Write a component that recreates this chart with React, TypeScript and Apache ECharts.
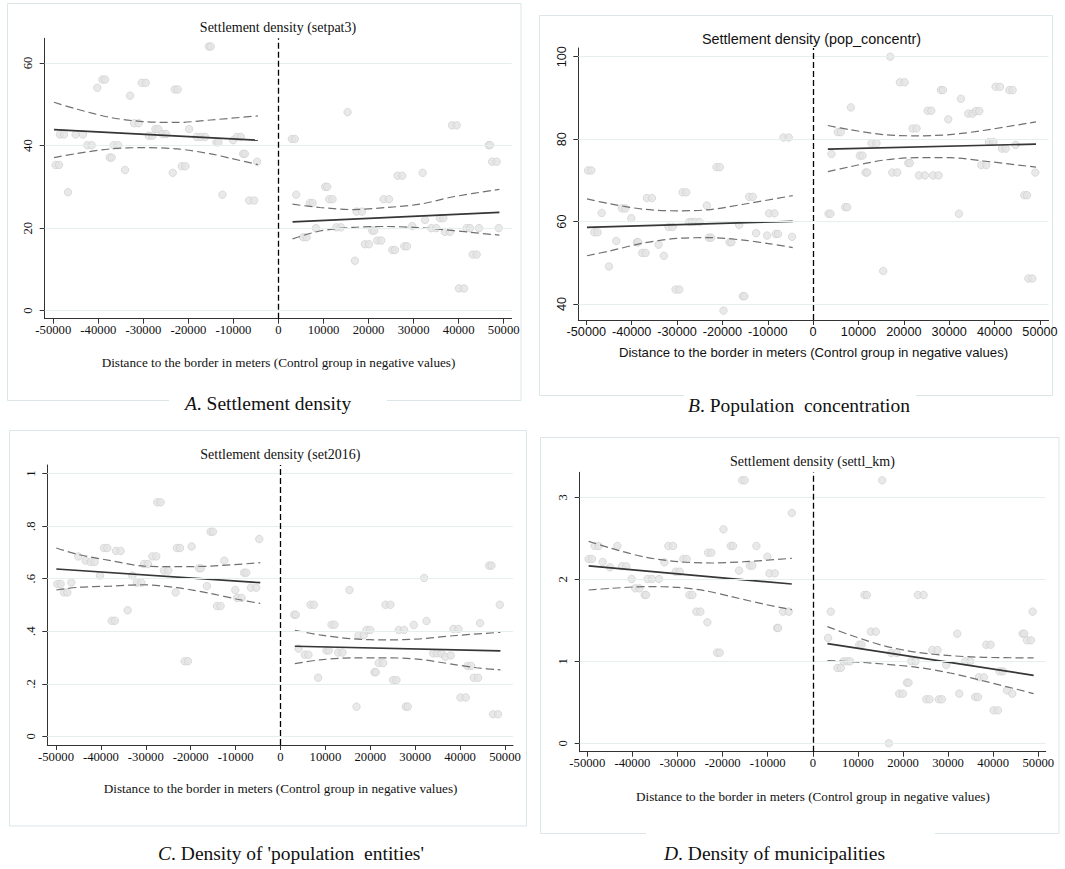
import React, { useEffect, useRef } from "react";
import * as echarts from "echarts";

// ---------------- DATA ----------------
const xTicks = [-50000, -40000, -30000, -20000, -10000, 0, 10000, 20000, 30000, 40000, 50000];
const yTicksA = [0, 20, 40, 60];
const yTicksB = [40, 60, 80, 100];
const yTicksC = [0, 0.2, 0.4, 0.6, 0.8, 1];
const yTicksD = [0, 1, 2, 3];

const titleA = "Settlement density (setpat3)";
const titleB = "Settlement density (pop_concentr)";
const titleC = "Settlement density (set2016)";
const titleD = "Settlement density (settl_km)";
const xAxisName = "Distance to the border in meters (Control group in negative values)";
const captionLetters = ["A", "B", "C", "D"];
const captionTexts = [". Settlement density", ". Population  concentration", ". Density of 'population  entities'", ". Density of municipalities"];

const pointsA: number[][] = [
  [-49480, 35.3], [-48740, 35.3], [-48520, 42.7], [-47630, 42.7], [-46740, 28.7],
  [-45040, 42.7], [-43410, 42.7], [-42440, 40.1], [-41480, 40.1], [-40220, 54.0],
  [-39110, 56.0], [-38520, 56.0], [-37480, 37.1], [-37040, 37.1], [-36590, 40.1], [-35630, 40.1],
  [-34070, 34.1], [-32960, 52.1], [-32070, 45.4], [-31040, 45.4], [-30370, 55.2], [-29480, 55.2],
  [-28810, 42.4], [-28000, 42.4], [-27330, 44.0], [-26670, 44.0], [-25780, 42.8], [-24960, 42.8],
  [-23480, 33.4], [-23040, 53.6], [-22370, 53.6], [-21480, 35.0], [-20670, 35.0], [-19850, 44.0],
  [-18150, 42.1], [-17260, 42.1], [-16300, 42.1], [-15480, 64.0], [-15040, 64.0],
  [-13780, 40.8], [-13330, 40.8], [-12440, 28.1], [-10070, 41.3], [-9260, 42.1], [-8370, 42.1],
  [-7850, 38.0], [-7480, 38.0], [-6520, 26.7], [-5410, 26.7], [-4740, 36.1],
  [2960, 41.6], [3630, 41.6], [3930, 28.1], [5480, 17.8], [6220, 17.8], [6960, 26.1], [7560, 26.1],
  [8300, 20.0], [10370, 30.0], [10810, 30.0], [11260, 27.0], [12000, 27.0], [12890, 20.2], [13850, 20.2],
  [15330, 48.1], [16960, 12.1], [17330, 24.0], [18520, 24.0], [19190, 16.1], [20070, 16.1],
  [20800, 19.4], [21260, 19.4], [21930, 17.0], [22810, 17.0], [23330, 27.0], [24520, 27.0],
  [25260, 14.7], [25850, 14.7], [26440, 32.7], [27480, 32.7], [27930, 15.6], [28520, 15.6],
  [29700, 20.5], [32000, 33.4], [32520, 22.0], [33930, 20.0], [35040, 20.0], [35850, 22.4], [36590, 22.4],
  [36960, 19.1], [38070, 19.1], [38520, 44.9], [39560, 44.9], [40070, 5.4], [41190, 5.4],
  [41780, 20.0], [42520, 20.0], [43110, 13.6], [44000, 13.6], [44520, 20.0],
  [46670, 40.1], [46960, 40.1], [47410, 36.1], [48440, 36.1], [48890, 20.0],
];
const fitA_L = [[-49850, 43.85], [-4590, 41.3]];
const fitA_R = [[3110, 21.5], [49040, 23.8]];
const ciA_L_up = [[-49850, 50.5], [-44670, 48.8], [-37260, 46.8], [-29850, 45.8], [-22440, 45.6], [-15040, 46.2], [-4590, 47.2]];
const ciA_L_lo = [[-49850, 37.1], [-44670, 38.1], [-37260, 39.2], [-29850, 39.5], [-22440, 39.2], [-15040, 38.0], [-10590, 36.9], [-4590, 35.4]];
const ciA_R_up = [[3110, 25.8], [9190, 25.0], [16590, 24.5], [24000, 25.0], [31410, 25.8], [38810, 27.6], [49040, 29.4]];
const ciA_R_lo = [[3110, 17.4], [9190, 19.3], [16590, 20.2], [24000, 20.4], [29930, 20.2], [35110, 19.8], [42520, 19.0], [49040, 18.3]];

const pointsB: number[][] = [
  [-49630, 72.4], [-48900, 72.4], [-48240, 57.4], [-47500, 57.4], [-46620, 62.1], [-45010, 49.1],
  [-43390, 55.3], [-42150, 63.2], [-41410, 63.2], [-40090, 60.8], [-38840, 55.0], [-38550, 55.0],
  [-37670, 52.4], [-36940, 52.4], [-36640, 65.7], [-35540, 65.7], [-34070, 54.4], [-32900, 51.7],
  [-31870, 58.7], [-30990, 58.7], [-30330, 43.5], [-29520, 43.5], [-28790, 67.1], [-27980, 67.1],
  [-27320, 59.9], [-26700, 59.9], [-26000, 59.9], [-25050, 59.9], [-23430, 63.9], [-22990, 56.1], [-22480, 56.1],
  [-21300, 73.2], [-20570, 73.2], [-19760, 38.4], [-18440, 55.0], [-18000, 55.0], [-16310, 59.2],
  [-15500, 41.9], [-15140, 41.9], [-14110, 66.0], [-13300, 66.0], [-12570, 57.2], [-10150, 56.6],
  [-9710, 62.0], [-8530, 62.0], [-8240, 57.0], [-7730, 57.0], [-6550, 80.4], [-5380, 80.4], [-4640, 56.3],
  [3380, 61.9], [3820, 61.9], [4040, 76.4], [5440, 81.7], [6100, 81.7], [7060, 63.5], [7500, 63.5],
  [8310, 87.7], [10290, 76.0], [10880, 76.0], [11540, 71.9], [11910, 71.9], [12870, 79.0], [13970, 79.0],
  [15440, 48.0], [16990, 100.0], [17430, 71.9], [18530, 71.9], [19120, 93.8], [20150, 93.8],
  [20960, 74.2], [21320, 74.2], [21910, 82.6], [22790, 82.6], [23310, 71.2], [24630, 71.2],
  [25220, 86.9], [26030, 86.9], [26470, 71.2], [27650, 71.2], [28160, 91.9], [28600, 91.9],
  [29780, 84.8], [32130, 61.9], [32570, 89.8], [34190, 86.2], [35150, 86.2], [35880, 86.8], [36620, 86.8],
  [37060, 73.7], [38160, 73.7], [38750, 79.3], [39710, 79.3], [40220, 92.7], [41180, 92.7],
  [41620, 77.7], [42430, 77.7], [43240, 91.9], [43970, 91.9], [44630, 78.6],
  [46540, 66.4], [47130, 66.4], [47430, 46.2], [48310, 46.2], [48970, 71.9],
];
const fitB_L = [[-49850, 58.6], [-4500, 60.05]];
const fitB_R = [[3240, 77.6], [49120, 78.8]];
const ciB_L_up = [[-49850, 65.5], [-44720, 64.3], [-37380, 63.0], [-30040, 62.6], [-22700, 62.9], [-15360, 64.2], [-4500, 66.3]];
const ciB_L_lo = [[-49850, 51.7], [-44720, 52.9], [-37380, 54.8], [-30040, 55.9], [-22700, 56.1], [-15360, 55.5], [-9490, 54.6], [-4500, 53.7]];
const ciB_R_up = [[3240, 83.3], [8090, 82.3], [15440, 81.1], [22790, 80.8], [30150, 81.1], [37500, 82.1], [49120, 84.2]];
const ciB_R_lo = [[3240, 72.1], [8090, 73.3], [15440, 74.9], [22790, 75.5], [30150, 75.5], [37500, 74.7], [49120, 73.2]];

const pointsC: number[][] = [
  [-49700, 0.58], [-48960, 0.58], [-48220, 0.548], [-47480, 0.548], [-46590, 0.586], [-45030, 0.685],
  [-43400, 0.669], [-42280, 0.664], [-41390, 0.664], [-40200, 0.612], [-39310, 0.717], [-38570, 0.717],
  [-37600, 0.44], [-36900, 0.44], [-36640, 0.706], [-35600, 0.706], [-34040, 0.48], [-32990, 0.612],
  [-31970, 0.585], [-31000, 0.585], [-30410, 0.656], [-29520, 0.656], [-28550, 0.685], [-27660, 0.685],
  [-27440, 0.891], [-26700, 0.891], [-25960, 0.631], [-24990, 0.631], [-23360, 0.548], [-23060, 0.717], [-22390, 0.717],
  [-21350, 0.286], [-20610, 0.286], [-19800, 0.723], [-18160, 0.64], [-17720, 0.64], [-16380, 0.572],
  [-15570, 0.779], [-15050, 0.779], [-14160, 0.496], [-13340, 0.496], [-12520, 0.669], [-10070, 0.557],
  [-9630, 0.527], [-8660, 0.527], [-8140, 0.623], [-7630, 0.623], [-6590, 0.566], [-5400, 0.566], [-4730, 0.751],
  [3040, 0.463], [3410, 0.463], [4010, 0.334], [5420, 0.311], [6230, 0.311], [6680, 0.501], [7420, 0.501],
  [8390, 0.223], [10240, 0.327], [10760, 0.327], [11350, 0.425], [12020, 0.425], [12840, 0.319], [13800, 0.319],
  [15360, 0.557], [16920, 0.113], [17370, 0.385], [18550, 0.385], [19150, 0.405], [19960, 0.405],
  [20930, 0.244], [21220, 0.244], [21890, 0.279], [22860, 0.279], [23380, 0.501], [24490, 0.501],
  [25080, 0.214], [25830, 0.214], [26350, 0.405], [27530, 0.405], [27900, 0.113], [28350, 0.113],
  [29680, 0.424], [31990, 0.603], [32510, 0.439], [33990, 0.316], [34880, 0.316], [35840, 0.315], [36730, 0.303], [37920, 0.308],
  [38520, 0.409], [39630, 0.409], [40070, 0.148], [41260, 0.148], [41630, 0.268], [42450, 0.268],
  [43040, 0.223], [44010, 0.223], [44450, 0.431], [46460, 0.65], [46980, 0.65], [47350, 0.084], [48460, 0.084], [48830, 0.501],
];
const fitC_L = [[-49930, 0.637], [-4510, 0.585]];
const fitC_R = [[3190, 0.343], [48980, 0.325]];
const ciC_L_up = [[-49930, 0.717], [-45250, 0.693], [-37830, 0.669], [-30410, 0.648], [-22990, 0.646], [-15570, 0.648], [-4510, 0.661]];
const ciC_L_lo = [[-49930, 0.557], [-45250, 0.567], [-37830, 0.572], [-31150, 0.577], [-22990, 0.566], [-15570, 0.544], [-9630, 0.522], [-4510, 0.506]];
const ciC_R_up = [[3190, 0.404], [8760, 0.386], [16180, 0.371], [23600, 0.367], [31020, 0.371], [38440, 0.383], [48980, 0.396]];
const ciC_R_lo = [[3190, 0.277], [8760, 0.291], [16180, 0.299], [23600, 0.299], [31020, 0.293], [38440, 0.274], [43640, 0.261], [48980, 0.253]];

const pointsD: number[][] = [
  [-49700, 2.248], [-48960, 2.248], [-48370, 2.407], [-47490, 2.407], [-46600, 2.211], [-44970, 2.146],
  [-43340, 2.407], [-42310, 2.159], [-41350, 2.159], [-40160, 2.004], [-39350, 1.89], [-38460, 1.89],
  [-37280, 1.809], [-36980, 1.809], [-36610, 2.004], [-35650, 2.004], [-34100, 2.004], [-32910, 2.207],
  [-32030, 2.407], [-30990, 2.407], [-30400, 2.093], [-29510, 2.093], [-28700, 2.248], [-27960, 2.248],
  [-27370, 1.809], [-26700, 1.809], [-25810, 1.606], [-24930, 1.606], [-23370, 1.476], [-23220, 2.325], [-22490, 2.325],
  [-21230, 1.106], [-20640, 1.106], [-19820, 2.61], [-18200, 2.407], [-17680, 2.407], [-16350, 2.106],
  [-15680, 3.207], [-15090, 3.207], [-13980, 2.167], [-13390, 2.167], [-12500, 2.407], [-10060, 2.276],
  [-9620, 2.073], [-8430, 2.073], [-7910, 1.407], [-7690, 1.407], [-6580, 1.606], [-5330, 1.606], [-4660, 2.809],
  [3400, 1.285], [3990, 1.606], [5470, 0.919], [6210, 0.919], [6800, 1.0], [7620, 1.0], [8280, 1.0],
  [10280, 1.203], [10800, 1.203], [11460, 1.809], [11980, 1.809], [12870, 1.362], [13980, 1.362],
  [15380, 3.207], [16860, 0.0], [17380, 1.102], [18640, 1.102], [19160, 0.606], [19970, 0.606],
  [20860, 0.74], [21230, 0.74], [21820, 1.0], [22780, 1.0], [23300, 1.809], [24560, 1.809],
  [25150, 0.537], [25890, 0.537], [26480, 1.138], [27660, 1.138], [27960, 0.537], [28620, 0.537],
  [29590, 0.955], [32030, 1.337], [32470, 0.606], [33800, 1.0], [34910, 1.0], [36020, 0.565], [36610, 0.565],
  [36830, 0.805], [37940, 0.805], [38460, 1.203], [39420, 1.203], [40090, 0.402], [41050, 0.402],
  [41420, 0.878], [42160, 0.878], [43050, 0.646], [44230, 0.606], [46520, 1.337], [46890, 1.337],
  [47490, 1.256], [48370, 1.256], [48740, 1.606],
];
const fitD_L = [[-49700, 2.163], [-4660, 1.943]];
const fitD_R = [[3250, 1.215], [48960, 0.829]];
const ciD_L_up = [[-49700, 2.463], [-44670, 2.378], [-37280, 2.272], [-29880, 2.215], [-22490, 2.199], [-15090, 2.215], [-4660, 2.256]];
const ciD_L_lo = [[-49700, 1.87], [-44670, 1.89], [-37280, 1.911], [-29880, 1.902], [-23960, 1.862], [-18050, 1.789], [-10650, 1.695], [-4660, 1.63]];
const ciD_R_up = [[3250, 1.423], [8280, 1.321], [15680, 1.191], [23080, 1.11], [30470, 1.069], [37870, 1.049], [48960, 1.041]];
const ciD_R_lo = [[3250, 1.008], [8280, 0.996], [15680, 0.967], [23080, 0.927], [30470, 0.858], [37870, 0.76], [45270, 0.659], [48960, 0.606]];

// ---------------- STYLE / LAYOUT ----------------
const SERIF = '"Liberation Serif", "Times New Roman", serif';
const SANS = '"Liberation Sans", Arial, sans-serif';
const FRAME = "#dbe6e9";
const GRIDLINE = "#e6eef0";
const AXIS = "#333333";
const TEXT = "#111111";

const panels = [
  {
    title: titleA, yTicks: yTicksA, points: pointsA, fits: [fitA_L, fitA_R], cis: [ciA_L_up, ciA_L_lo, ciA_R_up, ciA_R_lo],
    font: SERIF, titleSize: 14, grid: { left: 44.7, top: 38.3, width: 466.8, height: 280.4 }, xmin: -51909, xmax: 51730, ymin: -1.94, ymax: 65.99,
    titleXY: [278, 27.3], nameXY: [278.5, 362.7], frame: [7.5, 3.5, 513.5, 397],
    caption: [268, 403], gap: [169, 394, 218, 16] as null | number[],
  },
  {
    title: titleB, yTicks: yTicksB, points: pointsB, fits: [fitB_L, fitB_R], cis: [ciB_L_up, ciB_L_lo, ciB_R_up, ciB_R_lo],
    font: SANS, titleSize: 14.4, grid: { left: 578.3, top: 48, width: 470.3, height: 272 }, xmin: -51763, xmax: 51897, ymin: 36.12, ymax: 102.11,
    titleXY: [811.5, 38.5], nameXY: [813.5, 352], frame: [539.5, 15.5, 513, 380],
    caption: [799, 405], gap: [684, 390, 232, 16] as null | number[],
  },
  {
    title: titleC, yTicks: yTicksC, points: pointsC, fits: [fitC_L, fitC_R], cis: [ciC_L_up, ciC_L_lo, ciC_R_up, ciC_R_lo],
    font: SERIF, titleSize: 14, grid: { left: 47.3, top: 465, width: 465.7, height: 280 }, xmin: -51938, xmax: 51780, ymin: -0.033, ymax: 1.033,
    titleXY: [280.4, 454], nameXY: [280.6, 788.3], frame: [9.5, 430.5, 517, 395.5],
    caption: [291, 853], gap: null as null | number[],
  },
  {
    title: titleD, yTicks: yTicksD, points: pointsD, fits: [fitD_L, fitD_R], cis: [ciD_L_up, ciD_L_lo, ciD_R_up, ciD_R_lo],
    font: SERIF, titleSize: 14, grid: { left: 579.7, top: 472.3, width: 466, height: 279.4 }, xmin: -51685, xmax: 51641, ymin: -0.102, ymax: 3.305,
    titleXY: [812.4, 461.7], nameXY: [812.9, 796], frame: [540.5, 437.5, 518.5, 396],
    caption: [774.5, 853], gap: [646, 826, 289, 16] as null | number[],
  },
];

function fmtY(v: number): string {
  if (Math.abs(v) < 1e-9) return "0";
  if (v > 0 && v < 1) return String(Math.round(v * 10) / 10).replace(/^0\./, ".");
  return String(v);
}

function buildOption() {
  const grid: any[] = [];
  const xAxis: any[] = [];
  const yAxis: any[] = [];
  const series: any[] = [];
  const graphic: any[] = [];

  panels.forEach((p, i) => {
    grid.push({ ...p.grid, containLabel: false });
    const fontSize = 12.7;
    xAxis.push({
      type: "value", gridIndex: i, min: p.xmin, max: p.xmax,
      axisLine: { show: true, onZero: false, lineStyle: { color: AXIS, width: 1 } },
      axisTick: { show: true, length: 5, inside: false, customValues: xTicks, lineStyle: { color: AXIS, width: 1 } },
      axisLabel: { customValues: xTicks, formatter: (v: number) => String(v), fontFamily: p.font, fontSize, color: TEXT, margin: 5 },
      splitLine: { show: false },
    });
    yAxis.push({
      type: "value", gridIndex: i, min: p.ymin, max: p.ymax,
      axisLine: { show: true, onZero: false, lineStyle: { color: AXIS, width: 1 } },
      axisTick: { show: true, length: 5, inside: false, customValues: p.yTicks, lineStyle: { color: AXIS, width: 1 } },
      axisLabel: { customValues: p.yTicks, rotate: 90, formatter: (v: number) => fmtY(v), fontFamily: p.font, fontSize, color: TEXT, margin: 10 },
      splitLine: { show: false },
    });

    // horizontal grid lines
    series.push({
      type: "line", xAxisIndex: i, yAxisIndex: i, data: [], z: 1, silent: true,
      markLine: {
        silent: true, symbol: ["none", "none"], label: { show: false }, animation: false,
        lineStyle: { color: GRIDLINE, width: 1.2, type: "solid" },
        emphasis: { disabled: true },
        data: p.yTicks.map((v) => ({ yAxis: v })),
      },
    });
    // scatter points
    series.push({
      type: "scatter", xAxisIndex: i, yAxisIndex: i, data: p.points, z: 2, silent: true,
      symbol: "circle", symbolSize: 7.5,
      itemStyle: { color: "#e3e3e3", borderColor: "#cccccc", borderWidth: 0.8 },
    });
    // fitted lines
    p.fits.forEach((f) => {
      series.push({
        type: "line", xAxisIndex: i, yAxisIndex: i, data: f, z: 4, silent: true,
        showSymbol: false, symbol: "none",
        lineStyle: { color: "#363636", width: 1.7, type: "solid" },
      });
    });
    // confidence intervals
    p.cis.forEach((c) => {
      series.push({
        type: "line", xAxisIndex: i, yAxisIndex: i, data: c, z: 3, silent: true,
        showSymbol: false, symbol: "none", smooth: 0.3,
        lineStyle: { color: "#707070", width: 1.2, type: [8, 4] },
      });
    });
    // vertical line at the border (x = 0)
    series.push({
      type: "line", xAxisIndex: i, yAxisIndex: i, data: [], z: 5, silent: true,
      markLine: {
        silent: true, symbol: ["none", "none"], label: { show: false }, animation: false,
        lineStyle: { color: "#000000", width: 1.3, type: [6, 3] },
        emphasis: { disabled: true },
        data: [{ xAxis: 0 }],
      },
    });

    // frame
    const [fx, fy, fw, fh] = p.frame;
    graphic.push({ type: "rect", silent: true, z: 0, shape: { x: fx, y: fy, width: fw, height: fh }, style: { fill: "none", stroke: FRAME, lineWidth: 1 } });
    if (p.gap) {
      const [gx, gy, gw, gh] = p.gap;
      graphic.push({ type: "rect", silent: true, z: 1, shape: { x: gx, y: gy, width: gw, height: gh }, style: { fill: "#ffffff", stroke: "none" } });
    }
    // title
    graphic.push({
      type: "text", silent: true, z: 10, x: p.titleXY[0], y: p.titleXY[1],
      style: { text: p.title, fill: TEXT, fontFamily: p.font, fontSize: p.titleSize, textAlign: "center", textVerticalAlign: "middle", align: "center", verticalAlign: "middle" },
    });
    // x axis name
    graphic.push({
      type: "text", silent: true, z: 10, x: p.nameXY[0], y: p.nameXY[1],
      style: { text: xAxisName, fill: TEXT, fontFamily: p.font, fontSize: 13.2, textAlign: "center", textVerticalAlign: "middle", align: "center", verticalAlign: "middle" },
    });
    // caption
    graphic.push({
      type: "text", silent: true, z: 10, x: p.caption[0], y: p.caption[1],
      style: {
        text: "{i|" + captionLetters[i] + "}{n|" + captionTexts[i] + "}",
        fill: TEXT, fontFamily: SERIF, fontSize: 19.5,
        textAlign: "center", textVerticalAlign: "middle", align: "center", verticalAlign: "middle",
        rich: {
          i: { fontFamily: SERIF, fontSize: 19.5, fontStyle: "italic", fill: TEXT },
          n: { fontFamily: SERIF, fontSize: 19.5, fill: TEXT },
        },
      },
    });
  });

  return { animation: false, backgroundColor: "#ffffff", grid, xAxis, yAxis, series, graphic };
}

export default function App() {
  const ref = useRef<HTMLDivElement>(null);
  useEffect(() => {
    if (!ref.current) return;
    const chart = echarts.init(ref.current, null, { renderer: "svg" });
    chart.setOption(buildOption() as any);
    return () => chart.dispose();
  }, []);
  return (
    <div
      ref={ref}
      style={{ position: "absolute", left: 0, top: 0, width: 1065, height: 869, background: "#ffffff" }}
    />
  );
}
